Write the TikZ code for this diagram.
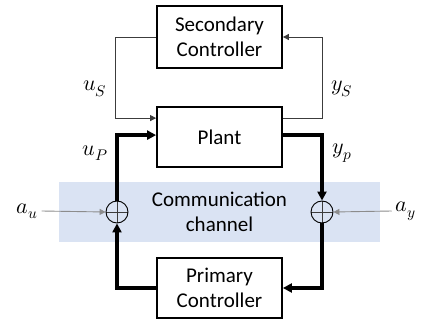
\documentclass[tikz,border=0pt]{standalone}
\usepackage{fontspec}
\usepackage{unicode-math}
\setmainfont{Carlito}
\setmathfont{Latin Modern Math}
\usetikzlibrary{arrows.meta,calc}
\definecolor{band}{RGB}{218,227,243}
\definecolor{thinline}{RGB}{60,60,60}
\definecolor{attline}{RGB}{140,140,140}
\begin{document}
\begin{tikzpicture}[x=1pt,y=-1pt,
  blk/.style={draw=black,line width=1.8pt,minimum width=125pt,minimum height=60pt,inner sep=0pt,align=center,font=\fontsize{21}{24.5}\selectfont},
  sumnode/.style={circle,draw=black,line width=0.9pt,minimum size=22pt,inner sep=0pt,
    path picture={\draw[line width=0.6pt,thinline] (path picture bounding box.north) -- (path picture bounding box.south) (path picture bounding box.west) -- (path picture bounding box.east);}},
  thinarr/.style={draw=thinline,line width=0.9pt,-{Triangle[length=6pt,width=6pt]}},
  thickarr/.style={draw=black,line width=3.2pt,-{Triangle[length=9pt,width=9pt]}},
  attarr/.style={draw=attline,line width=0.9pt,-{Triangle[length=6pt,width=6pt]}},
  lbl/.style={font=\fontsize{22}{26}\selectfont,inner sep=0pt}
]
\useasboundingbox (0,0) rectangle (425,320);
\fill[band] (59,182) rectangle (380,242);
\node[font=\fontsize{21}{24.5}\selectfont,align=center,inner sep=0pt] (chan) at (219.5,212) {Communication\\channel};
\node[blk,minimum height=62pt] (sec) at (219.5,37) {Secondary\\Controller};
\node[blk] (plant) at (219.5,137) {Plant};
\node[blk] (prim) at (219.5,288) {Primary\\Controller};
\node[sumnode] (sumu) at (117,212) {};
\node[sumnode] (sumy) at (322,212) {};
\node[lbl] (au) at (27,211) {$a_u$};
\node[lbl] (ay) at (406,211) {$a_y$};
\node[lbl] (us) at (95,89) {$u_S$};
\node[lbl] (ys) at (342,89) {$y_S$};
\node[lbl] (up) at (95,153) {$u_P$};
\node[lbl] (yp) at (342,153) {$y_p$};
% secondary loop
\draw[thinarr] (sec.west) -- ++(-41,0) |- ([yshift=-12pt]plant.north west);
\draw[thinarr] ([yshift=-12pt]plant.north east) -- ++(40,0) |- (sec.east);
% primary loop
\draw[thickarr] (prim.west) -| (sumu.south);
\draw[thickarr] (sumu.north) |- ([yshift=-29pt]plant.north west);
\draw[thickarr] ([yshift=-29pt]plant.north east) -| (sumy.north);
\draw[thickarr] (sumy.south) |- (prim.east);
% attacks
\draw[attarr] ([xshift=4pt]au.east) -- (sumu.west);
\draw[attarr] ([xshift=-4pt]ay.west) -- (sumy.east);
\end{tikzpicture}
\end{document}
